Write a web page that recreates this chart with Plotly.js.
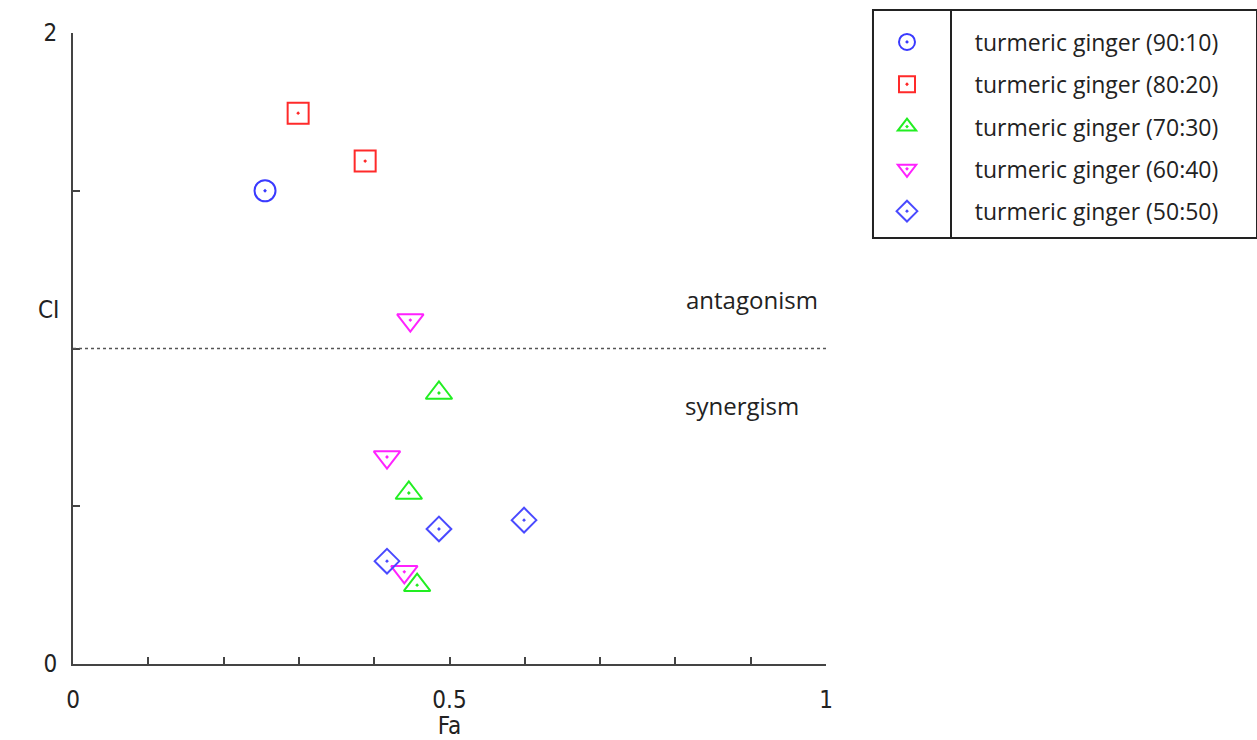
<!DOCTYPE html>
<html>
<head>
<meta charset="utf-8">
<script src="https://cdn.plot.ly/plotly-3.0.1.min.js"></script>
<style>html,body{margin:0;padding:0;background:#fff;}#chart{width:1257px;height:740px;}</style>
</head>
<body>
<div id="chart"></div>
<script>
// ---- data ----
const seriesNames = [
  'turmeric ginger (90:10)',
  'turmeric ginger (80:20)',
  'turmeric ginger (70:30)',
  'turmeric ginger (60:40)',
  'turmeric ginger (50:50)'
];
const fa_90_10 = [0.255];
const ci_90_10 = [1.50];
const fa_80_20 = [0.299, 0.388];
const ci_80_20 = [1.746, 1.594];
const fa_70_30 = [0.486, 0.446, 0.457];
const ci_70_30 = [0.859, 0.542, 0.250];
const fa_60_40 = [0.448, 0.417, 0.440];
const ci_60_40 = [1.090, 0.656, 0.292];
const fa_50_50 = [0.486, 0.599, 0.417];
const ci_50_50 = [0.428, 0.456, 0.326];

const xTickVals = [0, 0.1, 0.2, 0.3, 0.4, 0.5, 0.6, 0.7, 0.8, 0.9, 1];
const xTickText = ['0', '', '', '', '', '0.5', '', '', '', '', '1'];
const yTickVals = [0, 0.5, 1, 1.5, 2];
const yTickText = ['0', '', '', '', '2'];
const thresholdCI = 1;

// ---- styles ----
const colors = ['#3a3aff', '#ff2a2a', '#22ee22', '#ff22ff', '#4a4aff'];
const symbols = ['circle-open-dot', 'square-open-dot', 'triangle-up-open-dot', 'triangle-down-open-dot', 'diamond-open-dot'];
const sizes = [21, 21, 23, 23, 19];
const xs = [fa_90_10, fa_80_20, fa_70_30, fa_60_40, fa_50_50];
const ys = [ci_90_10, ci_80_20, ci_70_30, ci_60_40, ci_50_50];
const pad = '\u00a0'.repeat(8);

const traces = seriesNames.map((n, i) => ({
  type: 'scatter', mode: 'markers', x: xs[i], y: ys[i],
  name: pad + n, legendgroup: 'g' + i,
  marker: {symbol: symbols[i], size: sizes[i], color: colors[i], line: {width: 2, color: colors[i]}},
  cliponaxis: false
}));

const sans = "'Liberation Sans Narrow', 'DejaVu Sans Condensed', 'Open Sans', sans-serif";
const axisFont = {family: sans, size: 24, color: '#222'};
const textFont = {family: 'Open Sans', size: 24, color: '#222'};
const legendFont = {family: 'Open Sans', size: 23, color: '#222'};
const layout = {
  width: 1257, height: 740,
  margin: {l: 73, r: 431, t: 33, b: 76},
  paper_bgcolor: '#fff', plot_bgcolor: '#fff',
  showlegend: true,
  legend: {
    x: 1.081, y: 1.0198, xanchor: 'left', yanchor: 'top',
    bgcolor: 'rgba(0,0,0,0)', borderwidth: 0,
    traceorder: 'grouped', tracegroupgap: 9.4,
    font: legendFont
  },
  xaxis: {
    range: [0, 1], showgrid: false, zeroline: false,
    showline: true, linecolor: '#444', linewidth: 2,
    ticks: 'inside', ticklen: 7, tickwidth: 2, tickcolor: '#444',
    tickmode: 'array', tickvals: xTickVals, ticktext: xTickText,
    tickfont: axisFont, ticklabelstandoff: 13,
    title: {text: 'Fa', font: {family: sans, size: 24, color: '#222'}, standoff: 4}
  },
  yaxis: {
    range: [0, 2], showgrid: false, zeroline: false,
    showline: true, linecolor: '#444', linewidth: 2,
    ticks: 'inside', ticklen: 7, tickwidth: 2, tickcolor: '#444',
    tickmode: 'array', tickvals: yTickVals, ticktext: yTickText,
    tickfont: axisFont, ticklabelstandoff: 9
  },
  shapes: [
    {type: 'line', xref: 'paper', yref: 'y', x0: 0, x1: 1, y0: thresholdCI, y1: thresholdCI,
     line: {color: '#555', width: 1.5, dash: 'dot'}},
    {type: 'rect', xref: 'paper', yref: 'paper', x0: 1.0624, x1: 1.5724, y0: 0.6751, y1: 1.0365,
     line: {color: '#222', width: 2}, fillcolor: 'rgba(0,0,0,0)'},
    {type: 'line', xref: 'paper', yref: 'paper', x0: 1.166, x1: 1.166, y0: 0.6751, y1: 1.0365,
     line: {color: '#222', width: 2}}
  ],
  annotations: [
    {text: 'antagonism', xref: 'x', yref: 'y', x: 0.902, y: 1.154, showarrow: false, font: textFont},
    {text: 'synergism', xref: 'x', yref: 'y', x: 0.888, y: 0.818, showarrow: false, font: textFont},
    {text: 'CI', xref: 'paper', yref: 'paper', x: -0.033, y: 0.561, showarrow: false,
     xanchor: 'center', yanchor: 'middle',
     font: {family: sans, size: 24, color: '#222'}}
  ]
};

Plotly.newPlot('chart', traces, layout, {displayModeBar: false, staticPlot: true});
</script>
</body>
</html>
